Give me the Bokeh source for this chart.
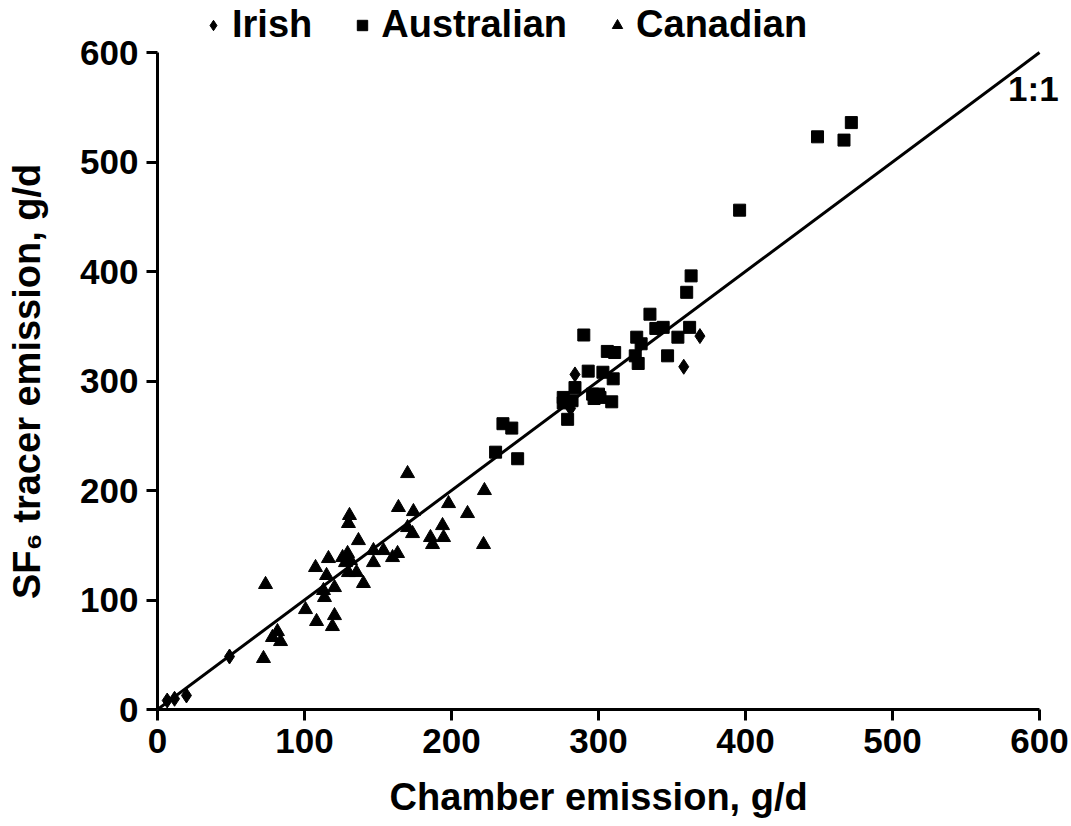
from bokeh.plotting import figure
from bokeh.models import Range1d, FixedTicker, Label, Legend, LegendItem
from bokeh.embed import file_html
from bokeh.resources import INLINE

# ---- data ----
irish_x = [6.6, 11.6, 19.7, 49, 281, 284, 358, 369]
irish_y = [8.2, 9.8, 12.8, 48.4, 275, 306, 313, 341]

aus_x = [230, 235, 241, 245, 279, 276, 276, 282, 284, 290, 293, 296, 300, 297, 301,
         303, 306, 311, 310, 309, 326, 329, 325, 327, 335, 339, 344, 347, 354, 360,
         362, 363, 396, 449, 467, 472]
aus_y = [235, 261, 257, 229, 265, 285, 280, 282, 294, 342, 309, 288, 288, 284, 285,
         308, 327, 326, 302, 281, 340, 334, 323, 316, 361, 348, 349, 323, 340, 381,
         349, 396, 456, 523, 520, 536]

can_x = [73.5, 72.1, 78.2, 81.6, 83.7, 100.7, 108.2, 120.4, 119.0, 107.5, 116.3, 115.0,
         112.9, 113.6, 120.4, 125.9, 129.3, 131.3, 127.9, 129.9, 135.4, 130.6, 129.9,
         136.7, 140.1, 146.9, 146.9, 153.7, 159.9, 163.3, 163.9, 170.1, 174.1, 170.1,
         173.5, 198.0, 193.9, 194.6, 185.7, 187.1, 210.9, 222.4, 221.8]
can_y = [114.2, 46.6, 65.8, 71.2, 62.1, 91.3, 80.4, 85.8, 75.8, 129.7, 137.9, 122.4,
         108.7, 102.3, 111.4, 138.8, 142.5, 136.1, 134.2, 125.1, 125.1, 177.2, 169.9,
         154.3, 115.1, 145.2, 134.2, 145.2, 138.8, 142.5, 184.5, 215.5, 180.8, 166.2,
         160.7, 188.1, 168.0, 157.1, 157.1, 150.7, 179.0, 200.0, 150.7]

ticks = [0, 100, 200, 300, 400, 500, 600]
axis_bounds = (0, 600)
one_to_one = [0, 600]
series_names = ["Irish", "Australian", "Canadian"]
x_title = "Chamber emission, g/d"
y_title = "SF\u2086 tracer emission, g/d"

FONT = "Liberation Sans"
NBSP = "\u00a0"

# the frame reaches the top and right canvas edges so that the legend and the
# "1:1" label (outside the 0-600 axes) are not clipped; axes are bounded to 0-600
X_END = 600 * 914 / 882
Y_END = 600 * 709 / 657

p = figure(width=1071, height=826, output_backend="svg", toolbar_location=None,
           x_range=Range1d(0, X_END), y_range=Range1d(0, Y_END),
           min_border_left=157, min_border_right=0, min_border_top=0, min_border_bottom=117)
p.outline_line_color = None
p.xgrid.visible = False
p.ygrid.visible = False
p.background_fill_color = "white"
p.border_fill_color = "white"

for ax in (p.xaxis[0], p.yaxis[0]):
    ax.ticker = FixedTicker(ticks=ticks)
    ax.bounds = axis_bounds
    ax.axis_line_width = 3
    ax.axis_line_color = "black"
    ax.major_tick_line_width = 3
    ax.major_tick_line_color = "black"
    ax.major_tick_out = 11
    ax.major_tick_in = 0
    ax.minor_tick_line_color = None
    ax.major_label_text_font = FONT
    ax.major_label_text_font_style = "bold"
    ax.major_label_text_font_size = "35px"
    ax.major_label_text_color = "black"
    ax.axis_label_text_font = FONT
    ax.axis_label_text_font_style = "bold"
    ax.axis_label_text_font_size = "38px"
    ax.axis_label_text_color = "black"

# axis titles are centred on the whole frame; trailing no-break spaces move the
# visible text so it is centred on the 0-600 part of each axis
p.xaxis.axis_label = x_title + NBSP * 3
p.yaxis.axis_label = y_title + NBSP * 5
p.xaxis.major_label_standoff = 8
p.xaxis.axis_label_standoff = 20
p.yaxis.major_label_standoff = 8
p.yaxis.axis_label_standoff = 29

p.line(one_to_one, one_to_one, line_color="black", line_width=3)

r_ir = p.scatter(irish_x, irish_y, marker="diamond", size=15, color="black")
r_au = p.scatter(aus_x, aus_y, marker="square", size=12, color="black")
r_ca = p.scatter(can_x, can_y, marker="triangle", size=14, color="black")

p.add_layout(Label(x=613, y=585, text="1:1", text_align="right", text_baseline="top",
                   text_font=FONT, text_font_style="bold", text_font_size="35px",
                   text_color="black"))

lg = Legend(items=[LegendItem(label=series_names[0], renderers=[r_ir]),
                   LegendItem(label=series_names[1], renderers=[r_au]),
                   LegendItem(label=series_names[2], renderers=[r_ca])])
lg.orientation = "horizontal"
lg.location = (43, 663)
lg.background_fill_alpha = 0
lg.border_line_alpha = 0
lg.padding = 0
lg.margin = 0
lg.spacing = 37
lg.label_standoff = 6
lg.glyph_width = 26
lg.glyph_height = 26
lg.label_text_font = FONT
lg.label_text_font_style = "bold"
lg.label_text_font_size = "38px"
lg.label_text_color = "black"
p.add_layout(lg, "center")

open("out.html", "w").write(file_html(p, INLINE))
